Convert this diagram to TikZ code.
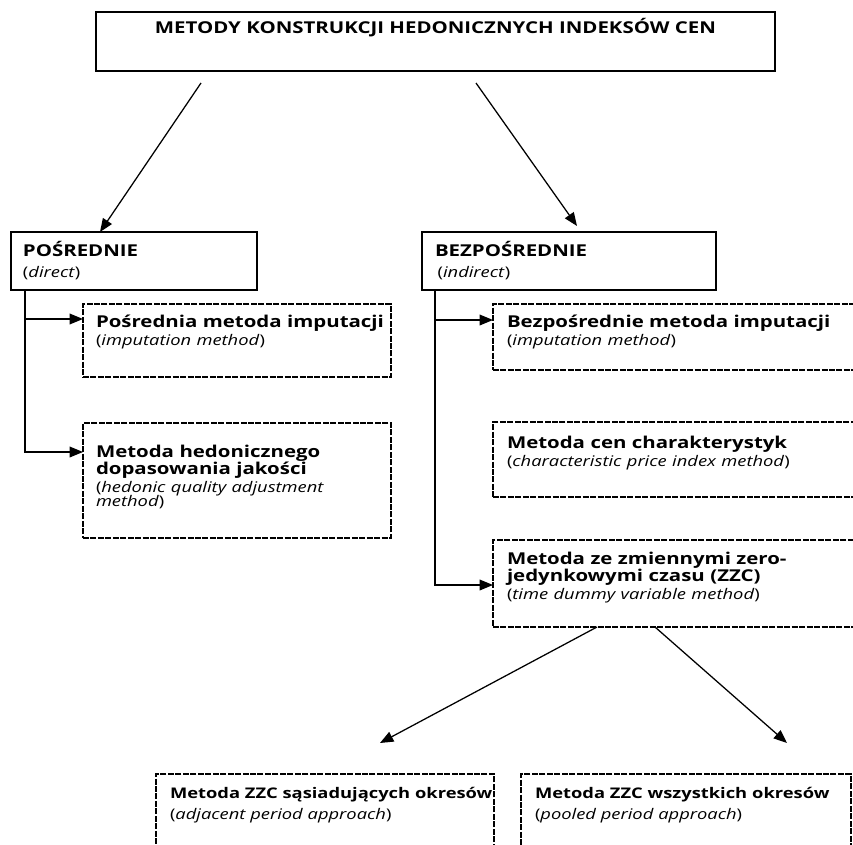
\documentclass[tikz,border=0pt]{standalone}
\usepackage{fontspec}
\setmainfont{Open Sans}[FakeStretch=1.25]
\usetikzlibrary{arrows.meta}
\newcommand{\en}{\fontsize{11}{12.75}\selectfont\mdseries}

\begin{document}
\begin{tikzpicture}[x=0.75pt,y=-0.75pt,>={Triangle[length=10pt,width=8pt]},
  box/.style={draw,line width=1.3pt,anchor=north west,align=left,inner sep=0pt,outer sep=0pt,
    font=\fontsize{12.25}{12.75}\selectfont\bfseries},
  dbox/.style={box,line width=1.9pt,dash pattern=on 4.5pt off 1.1pt},
  pad/.style={execute at begin node={\leftskip=#1}},
  link/.style={->,line width=0.95pt}]
  \clip (0,0) rectangle (853,845);
  % top level
  \node[box,align=center,text width=509.25pt,text height=16pt,text depth=28.25pt] (top) at (96,12)
    {METODY KONSTRUKCJI HEDONICZNYCH INDEKSÓW CEN};
  \node[box,pad=9pt,text width=184.5pt,text height=18pt,text depth=25.5pt] (pos) at (11,232)
    {POŚREDNIE\\[3pt]{\en(\textit{direct})}};
  \node[box,pad=9.75pt,text width=220.5pt,text height=18pt,text depth=25.5pt] (bez) at (422,232)
    {BEZPOŚREDNIE\\[3pt]{\en\hspace{2pt}(\textit{indirect})}};
  % left branch
  \node[dbox,pad=9.75pt,text width=231pt,text height=17.25pt,text depth=37.5pt] (l1) at (83,304)
    {Pośrednia metoda imputacji\\[0.75pt]{\en(\textit{imputation method})}};
  \node[dbox,pad=9.75pt,text width=231pt,text height=25.5pt,text depth=60.75pt] (l2) at (83,423)
    {Metoda hedonicznego\\dopasowania jakości\\[0.75pt]{\en(\textit{hedonic quality adjustment}}\\[-2.25pt]{\en\textit{method})}};
  % right branch
  \node[dbox,pad=10.5pt,text width=290.25pt,text height=17.25pt,text depth=32.25pt] (r1) at (493,304)
    {Bezpośrednie metoda imputacji\\[0.75pt]{\en(\textit{imputation method})}};
  \node[dbox,pad=10.5pt,text width=290.25pt,text height=19.5pt,text depth=36.75pt] (r2) at (493,422)
    {Metoda cen charakterystyk\\[0.75pt]{\en(\textit{characteristic price index method})}};
  \node[dbox,pad=10.5pt,text width=290.25pt,text height=18pt,text depth=47.25pt] (r3) at (493,540)
    {Metoda ze zmiennymi zero-\\jedynkowymi czasu (ZZC)\\[0.75pt]{\en(\textit{time dummy variable method})}};
  % ZZC variants
  \node[dbox,pad=10.5pt,text width=253.5pt,text height=18pt,text depth=54pt,
    font=\fontsize{11}{12.75}\selectfont\bfseries] (bl) at (156,774)
    {Metoda ZZC sąsiadujących okresów\\[3pt]{\en(\textit{adjacent period approach})}};
  \node[dbox,pad=10.5pt,text width=247.5pt,text height=18pt,text depth=54pt,
    font=\fontsize{11}{12.75}\selectfont\bfseries] (br) at (521,774)
    {Metoda ZZC wszystkich okresów\\[3pt]{\en(\textit{pooled period approach})}};
  % connectors
  \coordinate (lt) at ([xshift=10.5pt]pos.south west);
  \coordinate (rt) at ([xshift=9.75pt]bez.south west);
  \draw[link] ([xshift=78.75pt,yshift=-9pt]top.south west) -- ([xshift=66.75pt]pos.north west);
  \draw[link] ([xshift=285pt,yshift=-9pt]top.south west) -- ([xshift=116.25pt,yshift=4.5pt]bez.north west);
  \draw[link] (lt) |- ([yshift=-11.25pt]l1.north west);
  \draw[link] (lt) |- ([yshift=-21.75pt]l2.north west);
  \draw[link] (rt) |- ([yshift=-12pt]r1.north west);
  \draw[link] (rt) |- ([yshift=-33.75pt]r3.north west);
  \draw[link] ([xshift=78pt]r3.south west) -- ([xshift=168pt,yshift=23.25pt]bl.north west);
  \draw[link] ([xshift=121.5pt]r3.south west) -- ([xshift=199.5pt,yshift=23.25pt]br.north west);
\end{tikzpicture}
\end{document}
